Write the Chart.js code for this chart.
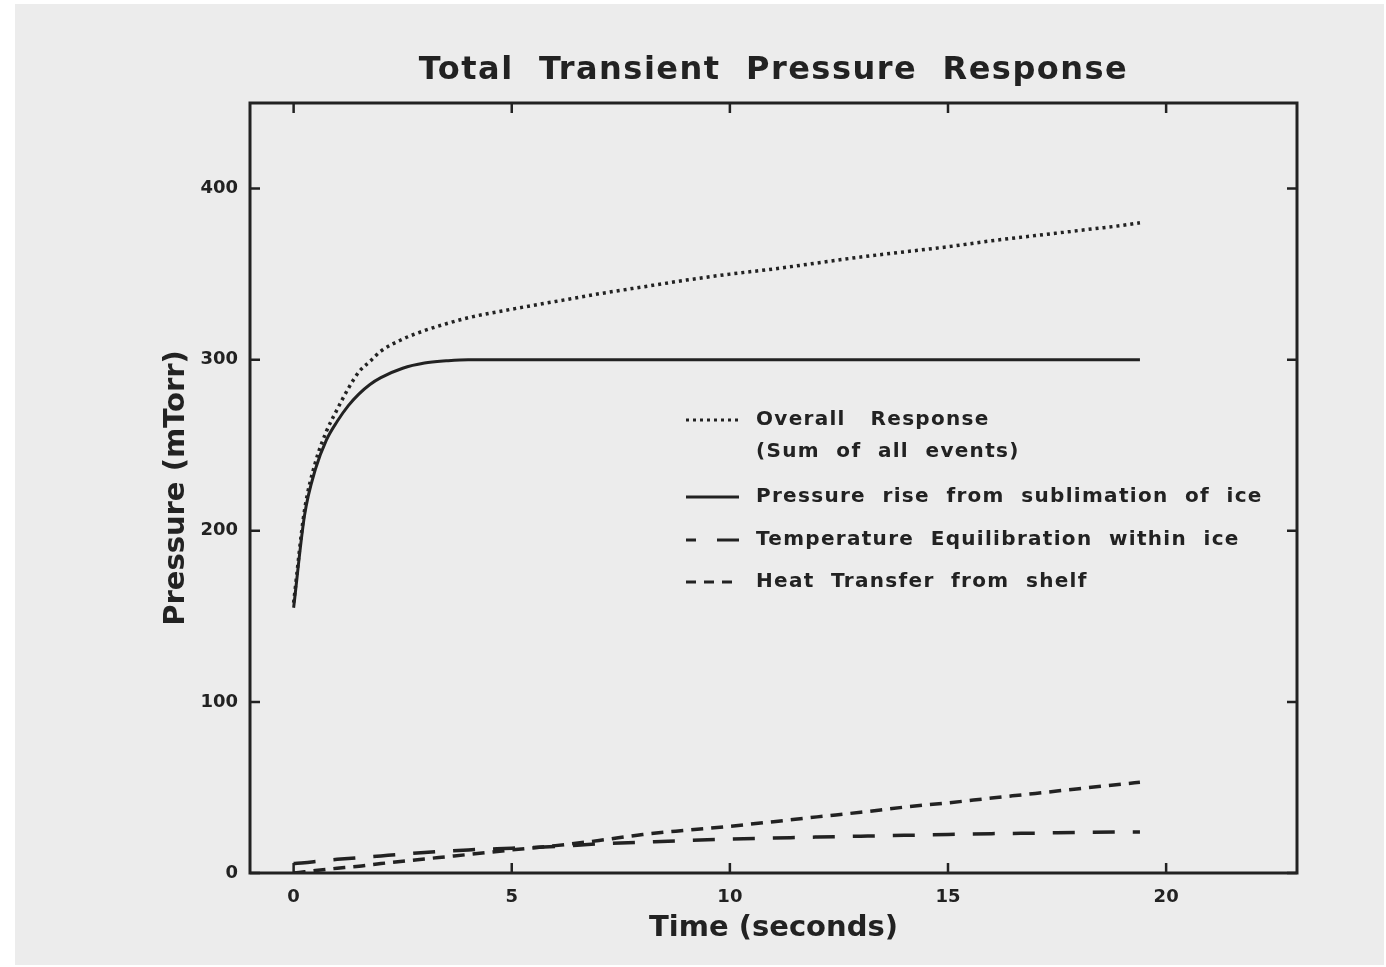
<!DOCTYPE html>
<html>
<head>
<meta charset="utf-8">
<script src="https://cdn.jsdelivr.net/npm/chart.js@4"></script>
<style>
  body { margin: 0; background: #ffffff; }
  #paper { position: absolute; left: 15px; top: 4px; width: 1369px; height: 961px; background: #ececec; }
  #wrap { position: absolute; left: 0; top: 0; width: 1386px; height: 967px; }
</style>
</head>
<body>
<div id="paper"></div>
<div id="wrap"><canvas id="myChart"></canvas></div>
<script>
// time in seconds
const times = [0, 0.25, 0.5, 0.75, 1, 1.25, 1.5, 1.75, 2, 2.5, 3, 3.5, 4, 5, 6, 7, 8, 9, 10, 11, 12, 13, 14, 15, 16, 17, 18, 19, 19.4];

// pressure values (mTorr)
const overall = [158, 212, 240, 258, 271, 283, 293, 299, 305, 312, 317, 321, 324.5, 329.5, 334, 338.5, 342.5, 346.5, 350, 353, 356.5, 360, 363, 366, 369.5, 372.5, 375.5, 378.5, 380];
const sublimation = [155, 209, 236, 253, 264, 273, 280, 285.5, 289.5, 295, 298, 299.3, 300, 300, 300, 300, 300, 300, 300, 300, 300, 300, 300, 300, 300, 300, 300, 300, 300];
const tempEquil = [5.5, 6, 6.7, 7.4, 8, 8.5, 9, 9.5, 10, 11, 12, 12.8, 13.5, 14.5, 15.5, 17, 18, 19, 19.8, 20.4, 21, 21.5, 22, 22.5, 23, 23.3, 23.7, 24, 24];
const heatShelf = [0, 0.7, 1.4, 2.1, 2.8, 3.4, 4, 4.8, 5.5, 6.9, 8.2, 9.5, 10.8, 13.5, 16, 19, 22.5, 25, 27.3, 30, 32.8, 35.5, 38.5, 41, 43.8, 46.5, 49.3, 52, 53];

const xTicks = [0, 5, 10, 15, 20];
const yTicks = [0, 100, 200, 300, 400];

const chartTitle = 'Total  Transient  Pressure  Response';

const ink = '#222222';

function toPoints(values){
    let pts = [];
    for(let i = 0; i < times.length; i++){
        pts.push({x: times[i], y: values[i]});
    }
    return pts;
}

// title centred over the plot box
const boxTitle = {
    id: 'boxTitle',
    afterDraw(chart){
        const ctx = chart.ctx;
        const ca = chart.chartArea;
        ctx.save();
        ctx.fillStyle = ink;
        ctx.font = 'bold 32px "DejaVu Sans"';
        ctx.letterSpacing = '1.5px';
        ctx.textAlign = 'center';
        ctx.textBaseline = 'middle';
        ctx.fillText(chartTitle, (ca.left + ca.right) / 2, ca.top - 32);
        ctx.restore();
    }
};

// inward tick marks + frame
const frameTicks = {
    id: 'frameTicks',
    afterDatasetsDraw(chart){
        const ctx = chart.ctx;
        const ca = chart.chartArea;
        const xs = chart.scales.x;
        const ys = chart.scales.y;
        const len = 10;
        ctx.save();
        ctx.strokeStyle = ink;
        ctx.lineWidth = 3;
        ctx.strokeRect(ca.left, ca.top, ca.right - ca.left, ca.bottom - ca.top);
        ctx.lineWidth = 2.5;
        ctx.beginPath();
        xTicks.forEach(v => {
            const px = xs.getPixelForValue(v);
            ctx.moveTo(px, ca.bottom); ctx.lineTo(px, ca.bottom - len);
            ctx.moveTo(px, ca.top); ctx.lineTo(px, ca.top + len);
        });
        yTicks.forEach(v => {
            const py = ys.getPixelForValue(v);
            ctx.moveTo(ca.left, py); ctx.lineTo(ca.left + len, py);
            ctx.moveTo(ca.right, py); ctx.lineTo(ca.right - len, py);
        });
        ctx.stroke();
        ctx.restore();
    }
};

// legend drawn inside the plot
const boxLegend = {
    id: 'boxLegend',
    afterDraw(chart){
        const ctx = chart.ctx;
        const ca = chart.chartArea;
        const x0 = ca.left + 436;
        const x1 = x0 + 53;
        const tx = x0 + 70;
        const rows = [ca.top + 317, ca.top + 349, ca.top + 394, ca.top + 437, ca.top + 479];
        ctx.save();
        ctx.strokeStyle = ink;
        ctx.fillStyle = ink;
        ctx.font = 'bold 20px "DejaVu Sans"';
        ctx.textBaseline = 'middle';
        ctx.letterSpacing = '1.3px';
        ctx.lineWidth = 3;

        ctx.setLineDash([3, 4]);
        ctx.beginPath(); ctx.moveTo(x0, rows[0]); ctx.lineTo(x1, rows[0]); ctx.stroke();
        ctx.setLineDash([]);
        ctx.beginPath(); ctx.moveTo(x0, rows[2]); ctx.lineTo(x1, rows[2]); ctx.stroke();
        ctx.beginPath(); ctx.moveTo(x0, rows[3]); ctx.lineTo(x0 + 10, rows[3]); ctx.moveTo(x0 + 31, rows[3]); ctx.lineTo(x1, rows[3]); ctx.stroke();
        ctx.setLineDash([10, 8]);
        ctx.beginPath(); ctx.moveTo(x0, rows[4]); ctx.lineTo(x1, rows[4]); ctx.stroke();
        ctx.setLineDash([]);

        ctx.fillText('Overall   Response', tx, rows[0]);
        ctx.fillText('(Sum  of  all  events)', tx, rows[1]);
        ctx.fillText('Pressure  rise  from  sublimation  of  ice', tx, rows[2]);
        ctx.fillText('Temperature  Equilibration  within  ice', tx, rows[3]);
        ctx.fillText('Heat  Transfer  from  shelf', tx, rows[4]);
        ctx.restore();
    }
};

const data = {
    datasets: [
        {
            label: 'Overall Response (Sum of all events)',
            data: toPoints(overall),
            borderColor: ink,
            borderWidth: 3.5,
            borderDash: [3, 4],
            pointRadius: 0,
            cubicInterpolationMode: 'monotone'
        },
        {
            label: 'Pressure rise from sublimation of ice',
            data: toPoints(sublimation),
            borderColor: ink,
            borderWidth: 3,
            pointRadius: 0,
            cubicInterpolationMode: 'monotone'
        },
        {
            label: 'Temperature Equilibration within ice',
            data: toPoints(tempEquil),
            borderColor: ink,
            borderWidth: 3.5,
            borderDash: [22, 18],
            pointRadius: 0,
            cubicInterpolationMode: 'monotone'
        },
        {
            label: 'Heat Transfer from shelf',
            data: toPoints(heatShelf),
            borderColor: ink,
            borderWidth: 3.5,
            borderDash: [12, 8],
            pointRadius: 0,
            cubicInterpolationMode: 'monotone'
        }
    ]
};

const config = {
    type: 'line',
    data,
    options: {
        responsive: false,
        animation: false,
        layout: { padding: { left: 0, right: 89, top: 103, bottom: 0 } },
        plugins: {
            legend: { display: false },
            tooltip: { enabled: false },
            title: { display: false }
        },
        scales: {
            x: {
                type: 'linear',
                min: -1,
                max: 23,
                afterBuildTicks: s => { s.ticks = xTicks.map(v => ({value: v})); },
                afterFit: s => { s.height = 94; },
                grid: { display: false, drawTicks: false },
                border: { display: false },
                ticks: { color: ink, padding: 14, font: { family: '"DejaVu Sans"', size: 18, weight: 'bold' } },
                title: {
                    display: true,
                    text: 'Time (seconds)',
                    color: ink,
                    font: { family: '"DejaVu Sans"', size: 29, weight: 'bold' },
                    padding: { top: 0, bottom: 21 }
                }
            },
            y: {
                min: 0,
                max: 450,
                afterBuildTicks: s => { s.ticks = yTicks.map(v => ({value: v})); },
                afterFit: s => { s.width = 250; },
                grid: { display: false, drawTicks: false },
                border: { display: false },
                ticks: { color: ink, padding: 12, font: { family: '"DejaVu Sans"', size: 18, weight: 'bold' } },
                title: {
                    display: true,
                    text: 'Pressure (mTorr)',
                    color: ink,
                    font: { family: '"DejaVu Sans"', size: 29, weight: 'bold' },
                    padding: { top: 159, bottom: 0 }
                }
            }
        }
    },
    plugins: [frameTicks, boxLegend, boxTitle]
};

const canvas = document.getElementById('myChart');
canvas.width = 1386;
canvas.height = 967;
var myChart = new Chart(canvas, config);
</script>
</body>
</html>
